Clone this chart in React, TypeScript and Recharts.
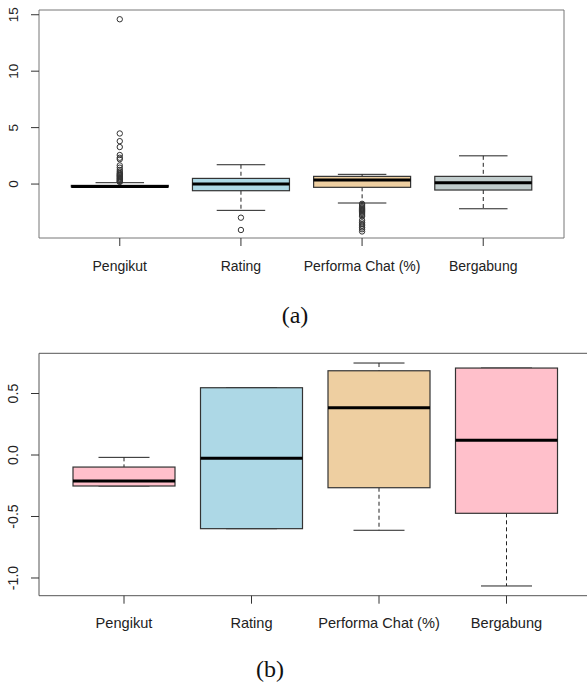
import React from "react";
import {
  ComposedChart,
  Bar,
  Cell,
  Scatter,
  XAxis,
  YAxis,
  ReferenceArea,
} from "recharts";

// ---------- data ----------
const categories = ["Pengikut", "Rating", "Performa Chat (%)", "Bergabung"];

// panel (a)
const aLower = [-0.27, -2.33, -1.68, -2.19];
const aQ1 = [-0.25, -0.59, -0.29, -0.53];
const aMedian = [-0.22, 0.0, 0.35, 0.12];
const aQ3 = [-0.12, 0.5, 0.68, 0.68];
const aUpper = [0.12, 1.71, 0.86, 2.5];
const aOutliers: number[][] = [
  [14.6, 4.48, 3.8, 3.28, 2.57, 2.33, 2.2, 1.65, 1.45, 1.25, 1.1, 0.98, 0.9, 0.82, 0.75, 0.68, 0.6, 0.52, 0.45, 0.38, 0.3, 0.24, 0.18],
  [-2.98, -4.07],
  [-1.75, -1.85, -1.95, -2.05, -2.15, -2.25, -2.35, -2.45, -2.55, -2.65, -2.75, -2.85, -3.2, -3.4, -3.55, -3.7, -3.85, -4.0, -4.2],
  [],
];
const aYTicks = [0, 5, 10, 15];
const aYDomain: [number, number] = [-4.78, 15.42];

// panel (b)
const bLower = [-0.252, -0.599, -0.612, -1.065];
const bQ1 = [-0.252, -0.599, -0.266, -0.474];
const bMedian = [-0.211, -0.027, 0.385, 0.119];
const bQ3 = [-0.098, 0.547, 0.685, 0.707];
const bUpper = [-0.019, 0.547, 0.748, 0.707];
const bOutliers: number[][] = [[], [], [], []];
const bYTicks = [-1.0, -0.5, 0.0, 0.5];
const bYDomain: [number, number] = [-1.144, 0.827];

// ---------- styles ----------
const colorsA = ["#FFC0CB", "#ADD8E6", "#EECFA1", "#C1CDCD"];
const colorsB = ["#FFC0CB", "#ADD8E6", "#EECFA1", "#FFC0CB"];
const PAD = 1 / 6; // R's axis extension around 0.5..4.5

type Row = { name: string; lo: number; q1: number; med: number; q3: number; hi: number };

function buildRows(lo: number[], q1: number[], med: number[], q3: number[], hi: number[]): Row[] {
  return categories.map((name, i) => ({ name, lo: lo[i], q1: q1[i], med: med[i], q3: q3[i], hi: hi[i] }));
}
function buildOutliers(out: number[][]) {
  const pts: { x: number; v: number }[] = [];
  out.forEach((arr, i) => arr.forEach((v) => pts.push({ x: i + 1, v })));
  return pts;
}

const BoxShape = (props: any) => {
  const { x, y, width, height, payload, fill } = props;
  const top = Math.min(y, y + height);
  const h = Math.abs(height);
  const { lo, q1, med, q3, hi } = payload as Row;
  const py = (v: number) => (hi === lo ? top : top + ((hi - v) / (hi - lo)) * h);
  const cx = x + width / 2;
  const cap = width / 4;
  const lineCol = "#222";
  return (
    <g>
      <line x1={cx} x2={cx} y1={py(hi)} y2={py(q3)} stroke={lineCol} strokeWidth={1} strokeDasharray="4 3" />
      <line x1={cx} x2={cx} y1={py(q1)} y2={py(lo)} stroke={lineCol} strokeWidth={1} strokeDasharray="4 3" />
      <line x1={cx - cap} x2={cx + cap} y1={py(hi)} y2={py(hi)} stroke={lineCol} strokeWidth={1} />
      <line x1={cx - cap} x2={cx + cap} y1={py(lo)} y2={py(lo)} stroke={lineCol} strokeWidth={1} />
      <rect x={x} y={py(q3)} width={width} height={Math.max(0, py(q1) - py(q3))} fill={fill} stroke="#333" strokeWidth={1.2} />
      <line x1={x} x2={x + width} y1={py(med)} y2={py(med)} stroke="#000" strokeWidth={3} />
    </g>
  );
};

const OutlierShape = (props: any) => (
  <circle cx={props.cx} cy={props.cy} r={2.7} fill="none" stroke="#333" strokeWidth={1} />
);

type PanelProps = {
  rows: Row[];
  outliers: { x: number; v: number }[];
  colors: string[];
  width: number;
  height: number;
  margin: { top: number; right: number; bottom: number; left: number };
  yDomain: [number, number];
  yTicks: number[];
  yFmt: (v: number) => string;
  xFont: number;
  yFont: number;
  frame: string;
};

function BoxPanel(p: PanelProps) {
  const plotW = p.width - p.margin.left - p.margin.right - 39;
  const band = plotW / (4 + 2 * PAD);
  const padPx = band * PAD;
  const XTick = (t: any) => (
    <text x={t.x} y={t.y + 22.5} textAnchor="middle" fontFamily="'Liberation Sans', Arial, sans-serif" fontSize={p.xFont} fill="#222">
      {t.payload.value}
    </text>
  );
  const YTick = (t: any) => {
    const bx = t.x - 10.5;
    return (
      <text x={bx} y={t.y} textAnchor="middle" transform={`rotate(-90 ${bx} ${t.y})`} fontFamily="'Liberation Sans', Arial, sans-serif" fontSize={p.yFont} fill="#222">
        {p.yFmt(t.payload.value)}
      </text>
    );
  };
  return (
    <ComposedChart width={p.width} height={p.height} data={p.rows} margin={p.margin} barCategoryGap="10%">
      <XAxis
        dataKey="name"
        type="category"
        padding={{ left: padPx, right: padPx }}
        axisLine={false}
        tickLine={{ stroke: "#333" }}
        tickSize={8}
        height={40}
        interval={0}
        tick={XTick}
      />
      <XAxis xAxisId="num" dataKey="x" type="number" domain={[0.5 - PAD, 4.5 + PAD]} allowDataOverflow hide />
      <YAxis
        type="number"
        domain={p.yDomain}
        ticks={p.yTicks}
        allowDataOverflow
        width={39}
        axisLine={false}
        tickLine={{ stroke: "#333" }}
        tickSize={8}
        tick={YTick}
        interval={0}
      />
      <ReferenceArea
        xAxisId="num"
        x1={0.5 - PAD}
        x2={4.5 + PAD}
        y1={p.yDomain[0]}
        y2={p.yDomain[1]}
        fill="none"
        fillOpacity={0}
        stroke={p.frame}
        strokeWidth={1}
        ifOverflow="visible"
      />
      <Bar dataKey={(d: Row) => [d.lo, d.hi]} shape={BoxShape} isAnimationActive={false}>
        {p.rows.map((r, i) => (
          <Cell key={r.name} fill={p.colors[i]} />
        ))}
      </Bar>
      <Scatter xAxisId="num" data={p.outliers} dataKey="v" shape={OutlierShape} isAnimationActive={false} />
    </ComposedChart>
  );
}

const fmtA = (v: number) => String(v);
const fmtB = (v: number) => v.toFixed(1);

export default function App() {
  const rowsA = buildRows(aLower, aQ1, aMedian, aQ3, aUpper);
  const rowsB = buildRows(bLower, bQ1, bMedian, bQ3, bUpper);
  return (
    <div style={{ position: "absolute", left: 0, top: 0, width: 587, height: 683, overflow: "hidden", background: "#fff" }}>
      <div style={{ position: "absolute", left: 0, top: 0 }}>
        <BoxPanel
          rows={rowsA}
          outliers={buildOutliers(aOutliers)}
          colors={colorsA}
          width={587}
          height={290}
          margin={{ top: 10, right: 23, bottom: 12, left: 0 }}
          yDomain={aYDomain}
          yTicks={aYTicks}
          yFmt={fmtA}
          xFont={14}
          yFont={13.5}
          frame="#777"
        />
      </div>
      <div style={{ position: "absolute", left: 0, top: 340 }}>
        <BoxPanel
          rows={rowsB}
          outliers={buildOutliers(bOutliers)}
          colors={colorsB}
          width={592}
          height={310}
          margin={{ top: 13.3, right: 0.5, bottom: 14.3, left: 0 }}
          yDomain={bYDomain}
          yTicks={bYTicks}
          yFmt={fmtB}
          xFont={14.6}
          yFont={14.2}
          frame="#555"
        />
      </div>
      <svg width={587} height={683} style={{ position: "absolute", left: 0, top: 0, pointerEvents: "none" }}>
        <text x={295} y={323} textAnchor="middle" fontFamily="'Liberation Serif', 'Times New Roman', serif" fontSize={24} fill="#111">
          (a)
        </text>
        <text x={270} y={677} textAnchor="middle" fontFamily="'Liberation Serif', 'Times New Roman', serif" fontSize={24} fill="#111">
          (b)
        </text>
      </svg>
    </div>
  );
}
